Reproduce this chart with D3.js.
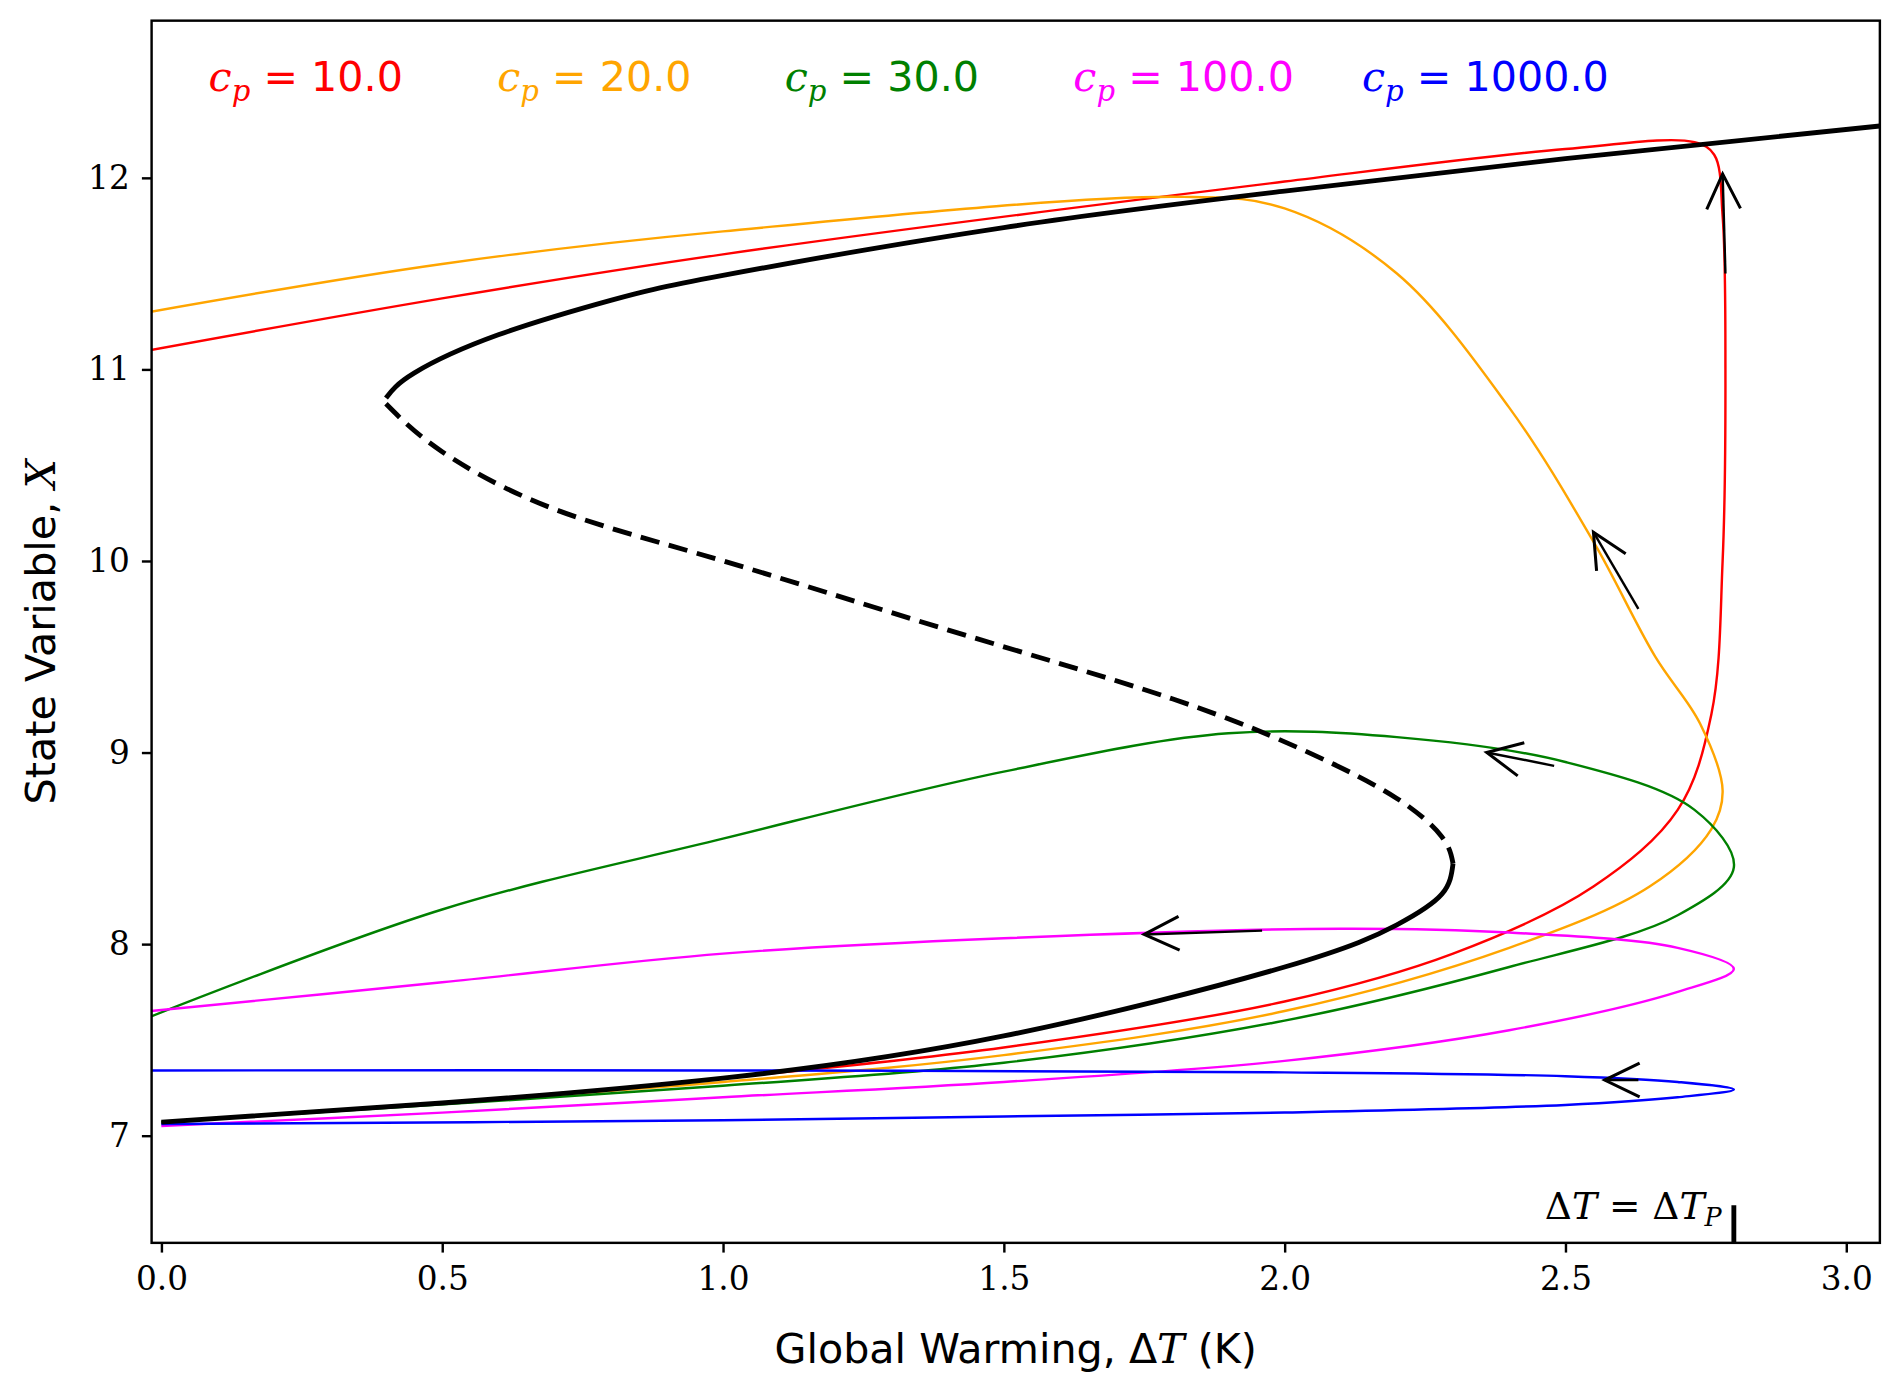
<!DOCTYPE html>
<html><head><meta charset="utf-8">
<script src="https://cdn.jsdelivr.net/npm/d3@7"></script>
<style>html,body{margin:0;padding:0;background:#fff}</style>
</head><body>
<script>
// S-shaped equilibrium curve (stable upper, unstable middle, stable lower)
var upperBranch = [[0.40,10.85],[0.45,10.98],[0.6,11.18],[0.8,11.36],[1.0,11.49],[1.5,11.74],[2.0,11.93],[2.5,12.1],[3.06,12.27]];
var middleBranch = [[0.40,10.82],[0.5,10.57],[0.7,10.27],[1.0,10.0],[1.4,9.64],[1.8,9.28],[2.05,8.99],[2.2,8.76],[2.28,8.56],[2.30,8.42]];
var lowerBranch = [[2.30,8.42],[2.28,8.26],[2.2,8.1],[2.0,7.88],[1.5,7.52],[1.0,7.3],[0.5,7.17],[0,7.07]];

var cpLabels = ["10.0","20.0","30.0","100.0","1000.0"];
var cpColors = ["red","orange","green","magenta","blue"];
var traj10 = [[0,7.07],[0.5,7.17],[1.0,7.3],[1.5,7.46],[2.0,7.7],[2.3,7.95],[2.55,8.3],[2.7,8.7],[2.76,9.2],[2.78,10],[2.785,11],[2.78,11.8],[2.765,12.12],[2.73,12.185],[2.5,12.15],[2.0,11.98],[1.0,11.6],[0.5,11.37],[-0.02,11.1]];
var traj20 = [[0,7.07],[1,7.28],[1.5,7.42],[2,7.65],[2.4,7.98],[2.65,8.3],[2.76,8.6],[2.78,8.8],[2.74,9.15],[2.66,9.5],[2.55,10.1],[2.4,10.8],[2.2,11.5],[2.0,11.84],[1.82,11.9],[1.0,11.72],[0.5,11.55],[-0.02,11.3]];
var traj30 = [[0,7.07],[1,7.26],[1.5,7.38],[2,7.6],[2.4,7.88],[2.7,8.15],[2.8,8.4],[2.73,8.7],[2.5,8.95],[2.2,9.08],[1.9,9.1],[1.5,8.9],[1.0,8.55],[0.5,8.18],[-0.02,7.62]];
var traj100 = [[0,7.05],[0.5,7.12],[1,7.2],[1.5,7.28],[2.0,7.39],[2.4,7.55],[2.7,7.75],[2.8,7.87],[2.7,7.98],[2.4,8.06],[2.1,8.08],[1.5,8.03],[1,7.95],[0.5,7.8],[-0.02,7.65]];
var traj1000 = [[0,7.06],[1,7.08],[1.5,7.1],[2,7.12],[2.5,7.16],[2.7,7.2],[2.8,7.24],[2.7,7.28],[2.5,7.31],[2,7.33],[1,7.34],[-0.02,7.34]];
var trajectories = [traj10, traj20, traj30, traj100, traj1000];
// direction arrows: [from, to]
var arrows = [[[2.785,11.5],[2.78,12.02]],[[2.63,9.75],[2.55,10.15]],[[2.48,8.93],[2.36,9.0]],[[1.96,8.07],[1.75,8.05]],[[2.63,7.29],[2.57,7.29]]];
var xTicks = [0,0.5,1,1.5,2,2.5,3];
var yTicks = [7,8,9,10,11,12];
var tipping = 2.8;

var W = 1560, H = 1140;
var svg = d3.select("body").append("svg")
  .attr("width", 1892).attr("height", 1385)
  .attr("viewBox", "0 0 " + W + " " + H).attr("preserveAspectRatio", "none");

var L = 125, R = 1550, T = 17, B = 1023;
var x = d3.scaleLinear().domain([-0.0173, 3.06]).range([L, R]);
var y = d3.scaleLinear().domain([6.44, 12.82]).range([B, T]);

var clip = svg.append("clipPath").attr("id", "c").append("rect")
  .attr("x", L).attr("y", T).attr("width", R - L).attr("height", B - T);
var g = svg.append("g").attr("clip-path", "url(#c)");
var line = d3.line().x(d => x(d[0])).y(d => y(d[1])).curve(d3.curveCatmullRom);
var smooth = d3.line().x(d => x(d[0])).y(d => y(d[1])).curve(d3.curveNatural);

trajectories.forEach(function(t, i) {
  g.append("path").attr("d", line(t)).attr("fill", "none")
    .attr("stroke", cpColors[i]).attr("stroke-width", 2);
});
g.append("path").attr("d", smooth(upperBranch)).attr("fill", "none").attr("stroke", "#000").attr("stroke-width", 4);
g.append("path").attr("d", smooth(lowerBranch)).attr("fill", "none").attr("stroke", "#000").attr("stroke-width", 4);
g.append("path").attr("d", smooth(middleBranch)).attr("fill", "none").attr("stroke", "#000")
  .attr("stroke-width", 4).attr("stroke-dasharray", "16,8");

arrows.forEach(function(a) {
  var x0 = x(a[0][0]), y0 = y(a[0][1]), x1 = x(a[1][0]), y1 = y(a[1][1]);
  var ang = Math.atan2(y1 - y0, x1 - x0), s = 32, w = 0.45;
  g.append("line").attr("x1", x0).attr("y1", y0).attr("x2", x1).attr("y2", y1)
    .attr("stroke", "#000").attr("stroke-width", 2);
  var p = "M" + (x1 - s * Math.cos(ang - w)) + "," + (y1 - s * Math.sin(ang - w)) +
    "L" + x1 + "," + y1 + "L" + (x1 - s * Math.cos(ang + w)) + "," + (y1 - s * Math.sin(ang + w));
  g.append("path").attr("d", p).attr("fill", "none").attr("stroke", "#000").attr("stroke-width", 2.5);
});

// tipping point marker
g.append("line").attr("x1", x(tipping)).attr("x2", x(tipping)).attr("y1", 992).attr("y2", B)
  .attr("stroke", "#000").attr("stroke-width", 4);
var ann = svg.append("text").attr("x", x(tipping) - 10).attr("y", 1003).attr("text-anchor", "end")
  .attr("font-family", "DejaVu Serif").attr("font-size", 31);
ann.append("tspan").text("Δ");
ann.append("tspan").attr("font-style", "italic").text("T");
ann.append("tspan").text(" = Δ");
ann.append("tspan").attr("font-style", "italic").text("T");
ann.append("tspan").attr("font-style", "italic").attr("font-size", 21).attr("dy", 6).text("P");

svg.append("rect").attr("x", L).attr("y", T).attr("width", R - L).attr("height", B - T)
  .attr("fill", "none").attr("stroke", "#000").attr("stroke-width", 2);

var xa = svg.append("g").attr("transform", "translate(0," + B + ")")
  .call(d3.axisBottom(x).tickValues(xTicks).tickFormat(d3.format(".1f")).tickSizeOuter(0).tickSize(8).tickPadding(12));
var ya = svg.append("g").attr("transform", "translate(" + L + ",0)")
  .call(d3.axisLeft(y).tickValues(yTicks).tickFormat(d3.format("d")).tickSizeOuter(0).tickSize(8).tickPadding(10));
[xa, ya].forEach(function(a) {
  a.select(".domain").remove();
  a.selectAll("line").attr("stroke-width", 2);
  a.selectAll("text").attr("font-family", "DejaVu Serif").attr("font-size", 27).attr("fill", "#000");
});

var xl = svg.append("text").attr("x", (L + R) / 2).attr("y", 1122).attr("text-anchor", "middle")
  .attr("font-family", "DejaVu Sans").attr("font-size", 34);
xl.append("tspan").text("Global Warming, Δ");
xl.append("tspan").attr("font-family", "DejaVu Serif").attr("font-style", "italic").text("T");
xl.append("tspan").text(" (K)");
var yl = svg.append("text").attr("transform", "translate(45," + ((T + B) / 2) + ") rotate(-90)")
  .attr("text-anchor", "middle").attr("font-family", "DejaVu Sans").attr("font-size", 34);
yl.append("tspan").text("State Variable, ");
yl.append("tspan").attr("font-family", "DejaVu Serif").attr("font-style", "italic").text("X");

var legX = [172, 410, 647, 885, 1123];
cpLabels.forEach(function(lbl, i) {
  var t = svg.append("text").attr("x", legX[i]).attr("y", 75).attr("fill", cpColors[i])
    .attr("font-family", "DejaVu Sans").attr("font-size", 34);
  t.append("tspan").attr("font-family", "DejaVu Serif").attr("font-style", "italic").text("c");
  t.append("tspan").attr("font-family", "DejaVu Serif").attr("font-style", "italic").attr("font-size", 24).attr("dy", 8).text("p");
  t.append("tspan").attr("dy", -8).text(" = " + lbl);
});
</script>
</body></html>
